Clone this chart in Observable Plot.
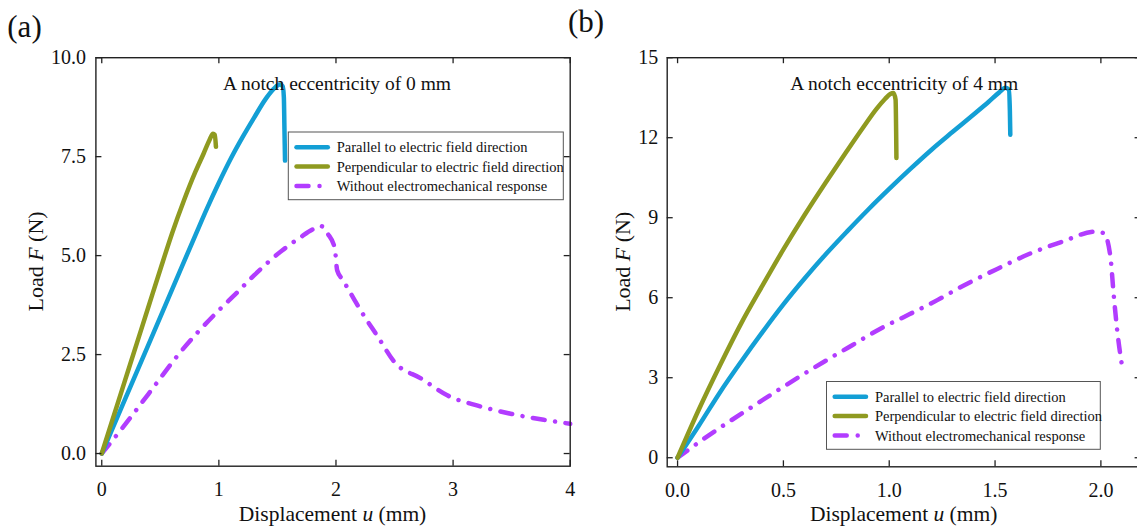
<!DOCTYPE html>
<html><head><meta charset="utf-8">
<script src="https://cdn.jsdelivr.net/npm/d3@7"></script>
<script src="https://cdn.jsdelivr.net/npm/@observablehq/plot@0.6"></script>
<style>
body{margin:0;background:#fff;}
#wrap{position:relative;width:1137px;height:528px;overflow:hidden;background:#fff;font-family:"Liberation Serif","Times New Roman",serif;}
#wrap svg{position:absolute;top:0;}
</style></head><body>
<div id="wrap"></div>
<script>
// ---------- data ----------
const seriesNames = ["Parallel to electric field direction", "Perpendicular to electric field direction", "Without electromechanical response"];
const seriesColors = ["#139fd5", "#8f9a20", "#b23cff"];

// Panel (a): notch eccentricity 0 mm
const aParX = [0, 0.2, 0.4, 0.6, 0.8, 0.9, 1.0, 1.1, 1.2, 1.3, 1.4, 1.47, 1.52, 1.545, 1.555, 1.56, 1.565];
const aParY = [0, 1.38, 2.76, 4.14, 5.52, 6.2, 6.84, 7.44, 7.98, 8.48, 8.96, 9.22, 9.32, 9.28, 9.0, 8.2, 7.4];
const aPerX = [0, 0.1, 0.2, 0.3, 0.4, 0.5, 0.6, 0.7, 0.8, 0.87, 0.92, 0.95, 0.965, 0.975];
const aPerY = [0, 0.93, 1.86, 2.79, 3.72, 4.65, 5.56, 6.38, 7.12, 7.58, 7.92, 8.08, 8.05, 7.75];
const aWoX = [0, 0.18, 0.40, 0.66, 1.00, 1.15, 1.30, 1.54, 1.70, 1.80, 1.87, 1.93, 1.99, 2.01, 2.06, 2.16, 2.21, 2.36, 2.50, 2.73, 2.95, 3.21, 3.50, 3.78, 4.00];
const aWoY = [0, 0.66, 1.51, 2.52, 3.62, 4.05, 4.50, 5.13, 5.47, 5.66, 5.75, 5.55, 5.18, 4.63, 4.38, 3.87, 3.62, 2.94, 2.31, 1.89, 1.47, 1.21, 1.00, 0.85, 0.75];
const aXTicks = [0, 1, 2, 3, 4];
const aYTicks = [0, 2.5, 5, 7.5, 10];
const aNote = "A notch eccentricity of 0 mm";

// Panel (b): notch eccentricity 4 mm
const bParX = [0, 0.1, 0.2, 0.3, 0.4, 0.5, 0.6, 0.7, 0.8, 0.9, 1.0, 1.1, 1.2, 1.3, 1.4, 1.47, 1.52, 1.55, 1.565, 1.57, 1.572];
const bParY = [0, 1.2, 2.45, 3.6, 4.70, 5.75, 6.72, 7.63, 8.48, 9.3, 10.08, 10.83, 11.55, 12.22, 12.88, 13.35, 13.7, 13.87, 13.8, 13.0, 12.11];
const bPerX = [0, 0.1, 0.2, 0.3, 0.4, 0.5, 0.6, 0.7, 0.8, 0.88, 0.94, 0.98, 1.005, 1.02, 1.03, 1.034];
const bPerY = [0, 1.80, 3.46, 5.03, 6.44, 7.81, 9.10, 10.32, 11.5, 12.42, 13.08, 13.45, 13.64, 13.68, 13.43, 11.24];
const bWoX = [0, 0.124, 0.36, 0.51, 0.69, 0.825, 0.975, 1.07, 1.227, 1.35, 1.51, 1.67, 1.817, 1.975, 2.014, 2.045, 2.06, 2.077, 2.10];
const bWoY = [0, 0.71, 1.95, 2.71, 3.59, 4.22, 4.91, 5.28, 5.91, 6.45, 7.08, 7.67, 8.10, 8.48, 8.42, 7.54, 6.16, 4.78, 3.44];
const bXTicks = [0, 0.5, 1.0, 1.5, 2.0];
const bYTicks = [0, 3, 6, 9, 12, 15];
const bNote = "A notch eccentricity of 4 mm";

// ---------- drawing ----------
const FONT = '"Liberation Serif","Times New Roman",serif';
const toRows = (xs, ys) => xs.map((x, i) => ({x, y: ys[i]}));
const dash = "12,10.5,0.01,10.5";

function panel(cfg) {
  const pw = cfg.width - cfg.ml - cfg.mr, ph = cfg.height - cfg.mt - cfg.mb;
  const ink = "#222";
  const series = [toRows(cfg.par[0], cfg.par[1]), toRows(cfg.per[0], cfg.per[1]), toRows(cfg.wo[0], cfg.wo[1])];
  const svg = Plot.plot({
    width: cfg.width, height: cfg.height,
    marginLeft: cfg.ml, marginRight: cfg.mr, marginTop: cfg.mt, marginBottom: cfg.mb,
    x: {domain: cfg.xDomain},
    y: {domain: cfg.yDomain},
    style: {fontFamily: FONT, fontSize: "20px", color: "#111", background: "transparent", overflow: "visible"},
    marks: [
      Plot.line(series[2], {x: "x", y: "y", stroke: seriesColors[2], strokeWidth: 4.5, strokeDasharray: dash, strokeLinecap: "round", curve: "monotone-x"}),
      Plot.line(series[0], {x: "x", y: "y", stroke: seriesColors[0], strokeWidth: 4.5, strokeLinecap: "round", curve: "monotone-x"}),
      Plot.line(series[1], {x: "x", y: "y", stroke: seriesColors[1], strokeWidth: 4.5, strokeLinecap: "round", curve: "monotone-x"}),
      Plot.tickX(cfg.xTicks, {x: d => d, insetTop: ph - 6, stroke: ink, strokeWidth: 1.3}),
      Plot.tickX(cfg.xTicks, {x: d => d, insetBottom: ph - 6, stroke: ink, strokeWidth: 1.3}),
      Plot.tickY(cfg.yTicks, {y: d => d, insetRight: pw - 6, stroke: ink, strokeWidth: 1.3}),
      Plot.tickY(cfg.yTicks, {y: d => d, insetLeft: pw - 6, stroke: ink, strokeWidth: 1.3}),
      Plot.axisX(cfg.xTicks, {tickSize: 0, tickPadding: 16, tickFormat: cfg.xFmt, label: null, fontSize: 20}),
      Plot.axisY(cfg.yTicks, {tickSize: 0, tickPadding: cfg.yPad, tickFormat: cfg.yFmt, label: null, fontSize: 20}),
      Plot.text([cfg.note], {text: d => d, frameAnchor: "top", dy: 18.4, dx: cfg.noteDx, fontSize: 19.5, fill: "#111"}),
      Plot.frame({stroke: ink, strokeWidth: 1.4})
    ]
  });
  svg.style.left = cfg.left + "px";
  const s = d3.select(svg);
  const cx = cfg.ml + pw / 2, cy = cfg.mt + ph / 2;
  // axis titles with italic variables
  const xt = s.append("text").attr("x", cx).attr("y", 520.6).attr("text-anchor", "middle")
    .attr("font-size", 21.5).attr("font-family", FONT).attr("fill", "#111");
  xt.append("tspan").text("Displacement ");
  xt.append("tspan").attr("font-style", "italic").text("u");
  xt.append("tspan").text(" (mm)");
  const yt = s.append("text").attr("transform", `translate(${cfg.yTitleX},${cy}) rotate(-90)`).attr("text-anchor", "middle")
    .attr("font-size", 22).attr("font-family", FONT).attr("fill", "#111");
  yt.append("tspan").text("Load ");
  yt.append("tspan").attr("font-style", "italic").text("F");
  yt.append("tspan").text(" (N)");
  // panel tag
  s.append("text").attr("x", cfg.tagX).attr("y", cfg.tagY).attr("text-anchor", "start")
    .attr("font-size", 31).attr("font-family", FONT).attr("fill", "#111").text(cfg.tag);
  // legend
  const L = cfg.legend;
  const g = s.append("g").attr("text-anchor", "start");
  g.append("rect").attr("x", L.x).attr("y", L.y).attr("width", L.w).attr("height", L.h)
    .attr("fill", "white").attr("stroke", "#555").attr("stroke-width", 1);
  seriesNames.forEach((name, i) => {
    const ry = L.y + 15.2 + i * 19.4;
    g.append("line").attr("x1", L.x + 8.2).attr("x2", L.x + 39.5).attr("y1", ry).attr("y2", ry)
      .attr("stroke", seriesColors[i]).attr("stroke-width", 4.5).attr("stroke-linecap", "round")
      .attr("stroke-dasharray", i === 2 ? "12,11,0.01,30" : null);
    g.append("text").attr("x", L.x + 48.4).attr("y", ry + 5).attr("font-size", 14.5).attr("text-anchor", "start")
      .attr("font-family", FONT).attr("fill", "#111").text(name);
  });
  document.getElementById("wrap").appendChild(svg);
}

panel({
  left: 0, width: 580, height: 528, ml: 95.4, mr: 10.3, mt: 57.2, mb: 62.3,
  xDomain: [-0.05, 4.0], yDomain: [-0.32, 10],
  xTicks: aXTicks, yTicks: aYTicks, xFmt: d3.format("d"), yFmt: d3.format(".1f"), yPad: 10,
  par: [aParX, aParY], per: [aPerX, aPerY], wo: [aWoX, aWoY],
  note: aNote, noteDx: 4, yTitleX: 43, tag: "(a)", tagX: 7.3, tagY: 37,
  legend: {x: 288.3, y: 132, w: 275, h: 67.7}
});
panel({
  left: 580, width: 580, height: 528, ml: 86.7, mr: 19.4, mt: 57.2, mb: 61.7,
  xDomain: [-0.049, 2.19], yDomain: [-0.34, 15],
  xTicks: bXTicks, yTicks: bYTicks, xFmt: d3.format(".1f"), yFmt: d3.format("d"), yPad: 9,
  par: [bParX, bParY], per: [bPerX, bPerY], wo: [bWoX, bWoY],
  note: bNote, noteDx: 0, yTitleX: 50, tag: "(b)", tagX: -12, tagY: 32,
  legend: {x: 246.5, y: 381.5, w: 273.8, h: 67.8}
});
</script>
</body></html>
